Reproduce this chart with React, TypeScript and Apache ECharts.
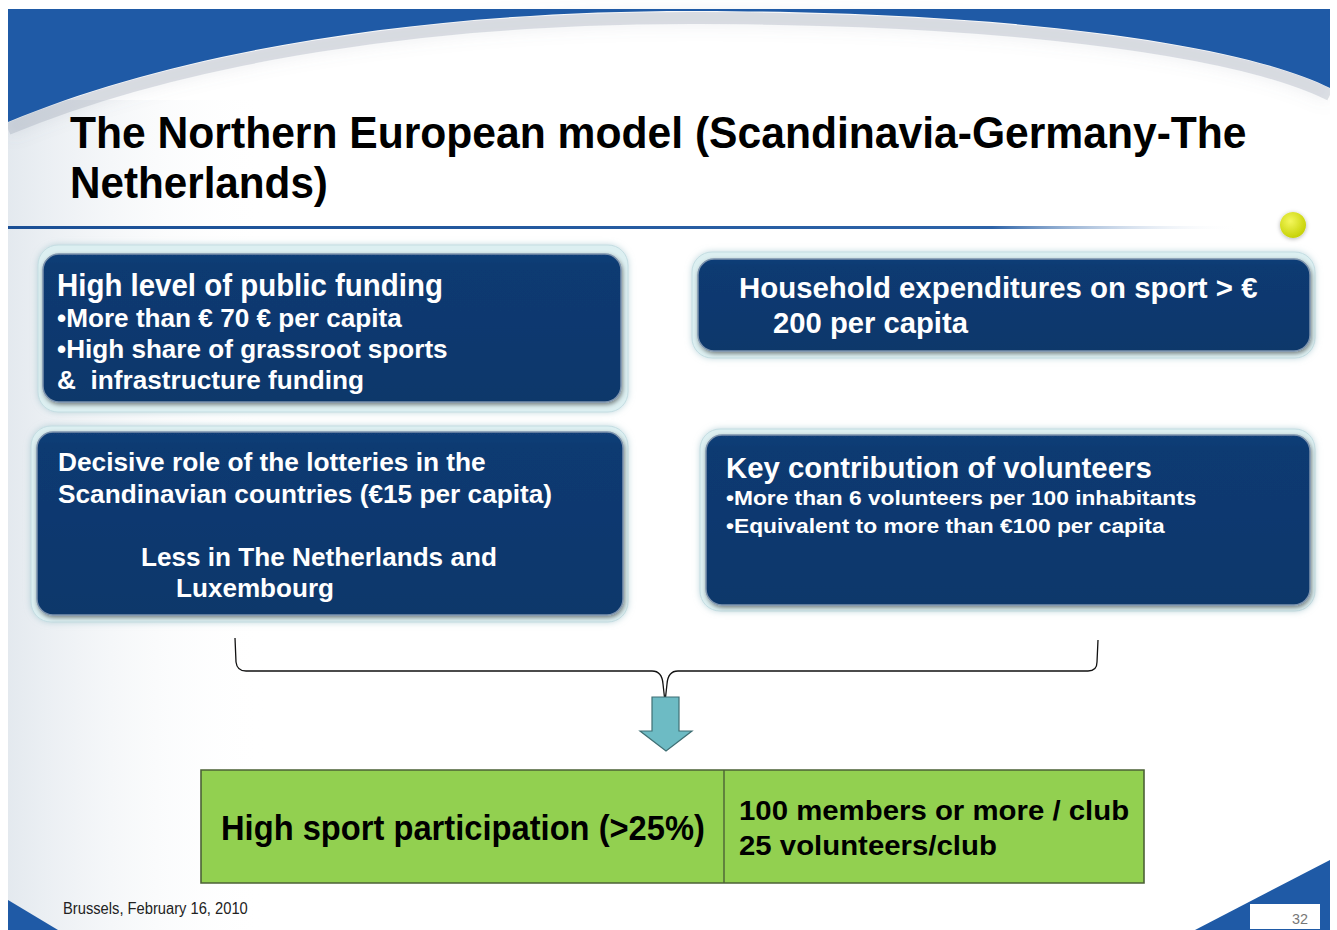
import React, { useEffect, useRef } from "react";
import * as echarts from "echarts";

// ---- slide content ----
const titleLines = ["The Northern European model (Scandinavia-Germany-The", "Netherlands)"];
const fundingLines = [
  "High level of public funding",
  "•More than € 70 € per capita",
  "•High share of grassroot sports",
  "&  infrastructure funding",
];
const householdLines = ["Household expenditures on sport > €", "200 per capita"];
const lotteryLines = [
  "Decisive role of the lotteries in the",
  "Scandinavian countries (€15 per capita)",
  "Less in The Netherlands and",
  "Luxembourg",
];
const volunteerLines = [
  "Key contribution of volunteers",
  "•More than 6 volunteers per 100 inhabitants",
  "•Equivalent to more than €100 per capita",
];
const outcomeMain = ["High sport participation (>25%)"];
const outcomeDetails = ["100 members or more / club", "25 volunteers/club"];
const footerText = ["Brussels, February 16, 2010"];
const pageNumber = ["32"];

const FONT = '"Liberation Sans", Arial, sans-serif';
const BLUE = "#1f5aa6";
const NAVY = "#0d3a72";

let measureCtx: CanvasRenderingContext2D | null = null;
function measure(text: string, fs: number, weight: string) {
  if (!measureCtx) measureCtx = document.createElement("canvas").getContext("2d");
  measureCtx!.font = `${weight} ${fs}px ${FONT}`;
  return measureCtx!.measureText(text).width;
}

// text line: x, baseline, font size, target width
function textEl(text: string, x: number, base: number, fs: number, w: number, fill: string, weight = "bold") {
  const sx = w > 0 ? w / measure(text, fs, weight) : 1;
  return {
    type: "text",
    x,
    y: base - 0.347 * fs,
    scaleX: sx,
    z: 20,
    style: {
      text,
      x: 0,
      y: 0,
      fill,
      fontSize: fs,
      fontWeight: weight,
      fontFamily: FONT,
      align: "left",
      verticalAlign: "middle",
    },
  };
}

function box(ox: number, oy: number, ow: number, oh: number, ix: number, iy: number, iw: number, ih: number) {
  return [
    {
      type: "rect",
      z: 5,
      shape: { x: ox, y: oy, width: ow, height: oh, r: 20 },
      style: { fill: "#dceff1", stroke: "#c4dde2", lineWidth: 1, shadowBlur: 6, shadowColor: "rgba(150,190,200,0.6)" },
    },
    {
      type: "rect",
      z: 6,
      shape: { x: ix, y: iy, width: iw, height: ih, r: 16 },
      style: {
        fill: {
          type: "linear", x: 0, y: 0, x2: 0, y2: 1,
          colorStops: [
            { offset: 0, color: "#123f78" },
            { offset: 0.08, color: NAVY },
            { offset: 1, color: "#0c376b" },
          ],
        },
        stroke: "#7d93ad",
        lineWidth: 1.5,
        shadowBlur: 4,
        shadowOffsetX: 1,
        shadowOffsetY: 2,
        shadowColor: "rgba(0,0,0,0.45)",
      },
    },
  ];
}

const TOP_BAND =
  "M8 9 L1330 9 L1330 88 C1250 48 1040 12 700 11 C430 10 180 50 8 122 Z";
const TOP_RIM = "M1330 88 C1250 48 1040 12 700 11 C430 10 180 50 8 122";
const BRACE =
  "M235 638 L236 662 Q237 671 246 671 L652 671 Q662 671 663 684 L665 702 L667 684 Q668 671 678 671 L1088 671 Q1097 671 1097 662 L1098 640";

let registered = false;
function registerShapes() {
  if (registered) return;
  registered = true;
  echarts.graphic.registerShape("topBand", echarts.graphic.extendPath(TOP_BAND, {}) as any);
  echarts.graphic.registerShape("topRim", echarts.graphic.extendPath(TOP_RIM, {}) as any);
  echarts.graphic.registerShape("brace", echarts.graphic.extendPath(BRACE, {}) as any);
}

export default function App() {
  const ref = useRef<HTMLDivElement>(null);
  useEffect(() => {
    if (!ref.current) return;
    registerShapes();
    const chart = echarts.init(ref.current, null, { renderer: "svg" });

    const W = "#ffffff";
    const K = "#000000";
    const elements: any[] = [
      // slide background
      { type: "rect", z: 0, shape: { x: 8, y: 8, width: 1322, height: 922 }, style: { fill: "#ffffff" } },
      {
        type: "rect", z: 1, shape: { x: 8, y: 100, width: 260, height: 830 },
        style: {
          fill: {
            type: "linear", x: 0, y: 0, x2: 1, y2: 0,
            colorStops: [
              { offset: 0, color: "rgba(205,215,225,0.55)" },
              { offset: 1, color: "rgba(255,255,255,0)" },
            ],
          },
        },
      },
      // top blue band with curved cut-out
      {
        type: "topRim", z: 2, x: 0, y: 7,
        style: { fill: null, stroke: "rgba(150,160,175,0.3)", lineWidth: 12, shadowBlur: 16, shadowColor: "rgba(120,130,150,0.5)" },
      },
      { type: "topBand", z: 3, x: 0, y: 0, style: { fill: BLUE } },
      { type: "rect", z: 4, shape: { x: 1330, y: 0, width: 7, height: 930 }, style: { fill: "#ffffff" } },
      { type: "rect", z: 4, shape: { x: 0, y: 0, width: 8, height: 930 }, style: { fill: "#ffffff" } },
      // title underline
      {
        type: "rect", z: 4, shape: { x: 8, y: 226, width: 1230, height: 3 },
        style: {
          fill: {
            type: "linear", x: 0, y: 0, x2: 1, y2: 0,
            colorStops: [
              { offset: 0, color: "#1a4f95" },
              { offset: 0.8, color: "#2d63a8" },
              { offset: 1, color: "rgba(255,255,255,0)" },
            ],
          },
        },
      },
      // tennis ball
      {
        type: "circle", z: 4, shape: { cx: 1293, cy: 225, r: 13 },
        style: {
          fill: {
            type: "radial", x: 0.4, y: 0.35, r: 0.7,
            colorStops: [
              { offset: 0, color: "#f4f75c" },
              { offset: 1, color: "#c3cf00" },
            ],
          },
          shadowBlur: 4, shadowColor: "rgba(0,0,0,0.3)", shadowOffsetY: 1,
        },
      },
      ...box(38, 245, 590, 167, 43, 254, 578, 148),
      ...box(692, 252, 623, 106, 698, 259, 612, 92),
      ...box(31, 426, 597, 196, 37, 432, 586, 183),
      ...box(700, 429, 615, 182, 706, 435, 604, 170),
      // brace
      { type: "brace", z: 4, x: 0, y: 0, style: { fill: null, stroke: "#111111", lineWidth: 1.3 } },
      // arrow
      {
        type: "polygon", z: 5,
        shape: { points: [[652, 697], [679, 697], [679, 731], [692, 731], [666, 751], [640, 731], [652, 731]] },
        style: { fill: "#6dbbc4", stroke: "#3f6f74", lineWidth: 1.2 },
      },
      // outcome box
      {
        type: "rect", z: 5, shape: { x: 201, y: 770, width: 943, height: 113 },
        style: { fill: "#92d050", stroke: "#4c6236", lineWidth: 1.6 },
      },
      { type: "line", z: 6, shape: { x1: 724, y1: 770, x2: 724, y2: 883 }, style: { stroke: "#4c6236", lineWidth: 1.4 } },
      // bottom decorations
      { type: "polygon", z: 5, shape: { points: [[8, 900], [58, 930], [8, 930]] }, style: { fill: BLUE } },
      { type: "polygon", z: 5, shape: { points: [[1330, 860], [1330, 930], [1195, 930]] }, style: { fill: BLUE } },
      { type: "rect", z: 6, shape: { x: 1250, y: 904, width: 70, height: 25 }, style: { fill: "#ffffff" } },

      // texts
      textEl(titleLines[0], 70, 148, 45, 1177, K),
      textEl(titleLines[1], 70, 198, 45, 258, K),

      textEl(fundingLines[0], 57, 296, 31, 386, W),
      textEl(fundingLines[1], 57, 327, 25, 345, W),
      textEl(fundingLines[2], 57, 358, 25, 391, W),
      textEl(fundingLines[3], 57, 389, 25, 307, W),

      textEl(householdLines[0], 739, 298, 29, 519, W),
      textEl(householdLines[1], 773, 333, 29, 195, W),

      textEl(lotteryLines[0], 58, 471, 26, 428, W),
      textEl(lotteryLines[1], 58, 503, 26, 494, W),
      textEl(lotteryLines[2], 141, 566, 26, 356, W),
      textEl(lotteryLines[3], 176, 597, 26, 158, W),

      textEl(volunteerLines[0], 726, 478, 29, 426, W),
      textEl(volunteerLines[1], 726, 505, 21, 471, W),
      textEl(volunteerLines[2], 726, 533, 21, 439, W),

      textEl(outcomeMain[0], 221, 840, 36, 484, K),
      textEl(outcomeDetails[0], 739, 820, 28, 390, K),
      textEl(outcomeDetails[1], 739, 855, 28, 258, K),

      textEl(footerText[0], 63, 914, 16, 185, "#222222", "normal"),
      textEl(pageNumber[0], 1292, 924, 14, 16, "#777777", "normal"),
    ];

    chart.setOption({
      animation: false,
      graphic: { elements },
    });
    return () => chart.dispose();
  }, []);

  return (
    <div
      ref={ref}
      style={{ position: "absolute", left: 0, top: 0, width: 1337, height: 930, background: "#ffffff" }}
    />
  );
}
